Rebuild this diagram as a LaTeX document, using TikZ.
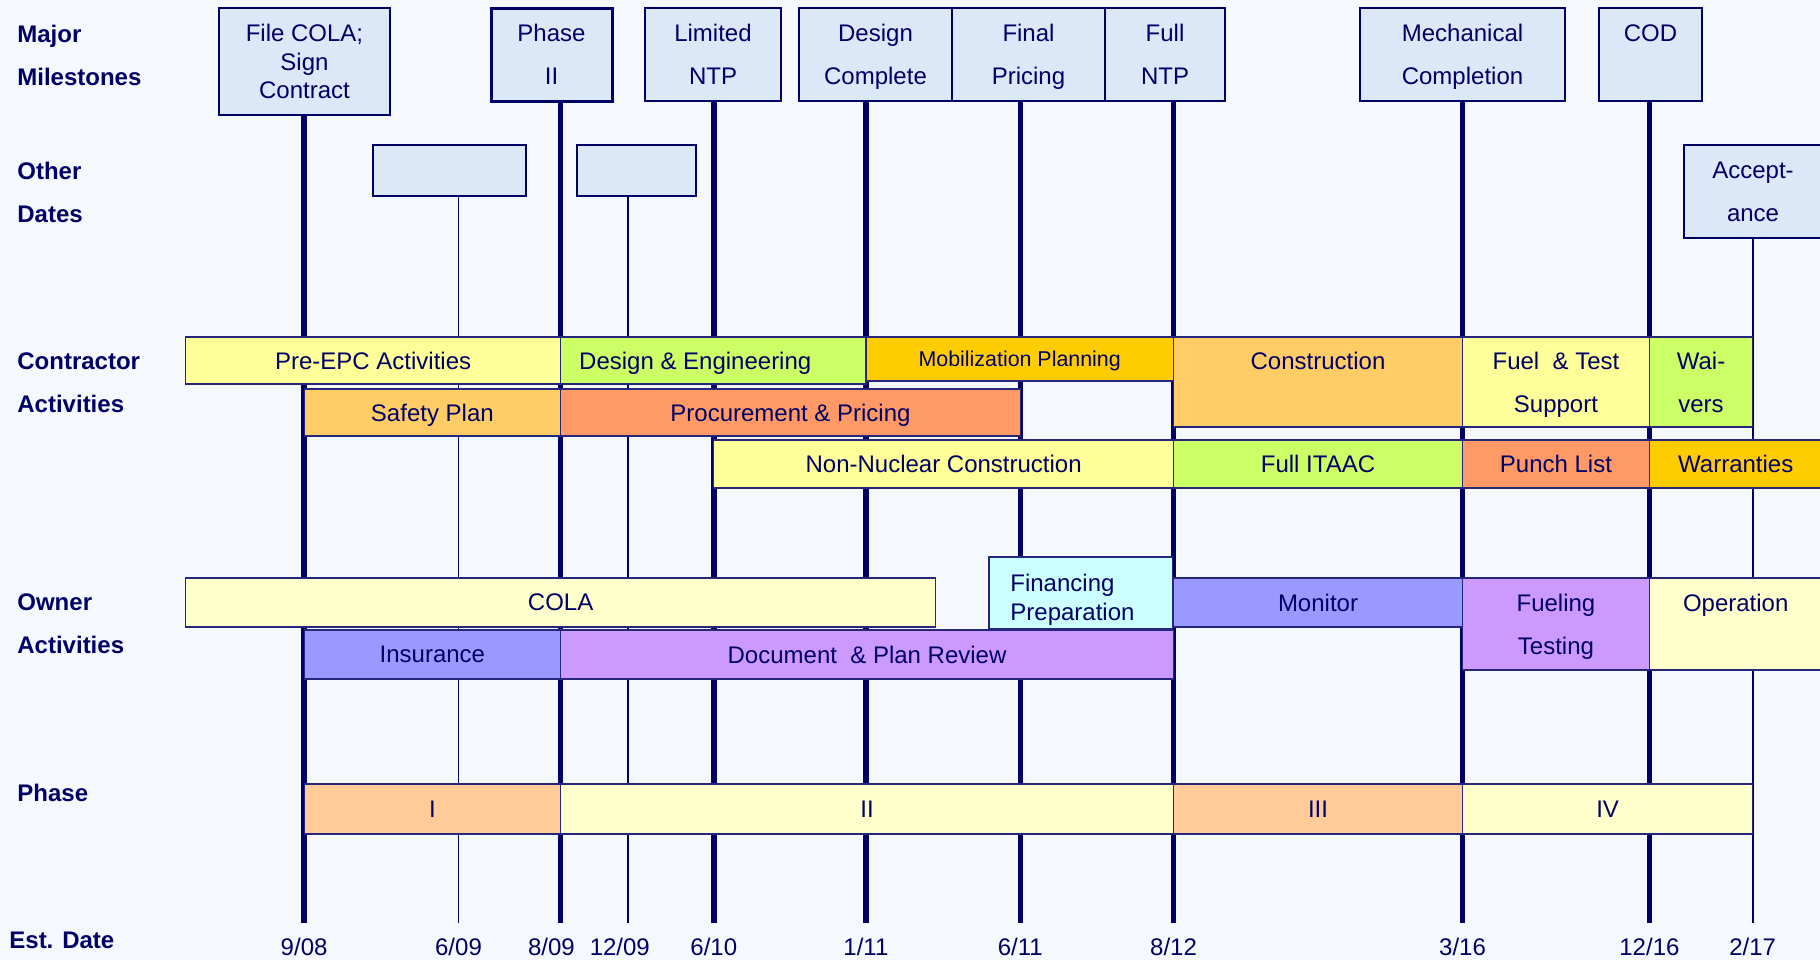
\documentclass[tikz,border=0pt]{standalone}
\usepackage{fontspec}
\setmainfont{Liberation Sans}

\definecolor{navy}{RGB}{0,0,102}
\definecolor{pagebg}{RGB}{245,248,253}
\definecolor{msfill}{RGB}{218,232,247}
\definecolor{cYellow}{RGB}{255,255,153}
\definecolor{cLime}{RGB}{204,255,102}
\definecolor{cGold}{RGB}{255,204,0}
\definecolor{cApricot}{RGB}{255,204,102}
\definecolor{cSalmon}{RGB}{255,153,102}
\definecolor{cCream}{RGB}{255,255,204}
\definecolor{cIce}{RGB}{204,255,255}
\definecolor{cPeri}{RGB}{153,153,255}
\definecolor{cLilac}{RGB}{204,153,255}
\definecolor{cPeach}{RGB}{255,204,153}

% box from (x1,y1) to (x2,y2): name, style, x1, y1, x2, y2, text
\newcommand\gbox[7]{%
  \node[#2, minimum width={(#5-#3)*0.5pt}, minimum height={(#6-#4)*0.5pt}]
    (#1) at ({(#3+#5)/2},{(#4+#6)/2}) {#7};}

\begin{document}
\begin{tikzpicture}[x=0.5pt,y=-0.5pt,
  txt/.style={text=navy, font=\fontsize{12}{21.5}\selectfont},
  mile/.style={draw=navy, line width=1pt, fill=msfill, inner sep=0pt, align=center,
    text depth=0pt, txt},
  bar/.style={draw=navy!85, line width=0.6pt, inner sep=0pt, align=center,
    text depth=0pt, txt},
  thickln/.style={draw=navy, line width=2.7pt},
  thinln/.style={draw=navy, line width=0.8pt},
  side/.style={anchor=west, align=left, inner sep=0pt, text=navy,
    font=\bfseries\fontsize{12}{21.5}\selectfont},
  datelbl/.style={inner sep=0pt, text=navy, font=\fontsize{12}{14}\selectfont}]

\useasboundingbox (0,0) rectangle (1820,960);
\fill[pagebg] (0,0) rectangle (1820,960);

% row headings
\node[side] (lMajor) at (17,55.5) {Major\\Milestones};
\node[side] (lOther) at (17,192) {Other\\Dates};
\node[side] (lContr) at (17,382.5) {Contractor\\Activities};
\node[side] (lOwner) at (17,624) {Owner\\Activities};
\node[side] (lPhase) at (17,793) {Phase};
\node[side] (lEst) at (9,940) {Est. Date};

% major milestones
\gbox{msA}{mile, font=\fontsize{12}{14.2}\selectfont}{219}{8}{390}{115}{File COLA;\\Sign\\Contract}
\gbox{msB}{mile, line width=1.5pt}{491}{8}{612}{101}{Phase\\II}
\gbox{msC}{mile}{645}{8}{781}{101}{Limited\\NTP}
\gbox{msD}{mile}{799}{8}{952}{101}{Design\\Complete}
\gbox{msE}{mile}{952}{8}{1105}{101}{Final\\Pricing}
\gbox{msF}{mile}{1105}{8}{1225}{101}{Full\\NTP}
\gbox{msG}{mile}{1360}{8}{1565}{101}{Mechanical\\Completion}
\gbox{msH}{mile}{1599}{8}{1702}{101}{COD\\\mbox{}}

% other dates
\gbox{odA}{mile}{372.6}{145}{525.8}{196}{}
\gbox{odB}{mile}{577}{145}{696}{196}{}
\gbox{odC}{mile}{1684}{145}{1822}{238}{Accept-\\ance}

% date lines
\foreach \m/\x/\n in {msA/304.1/a, msB/560.6/b, msC/713.8/c, msD/865.9/d,
    msE/1020.3/e, msF/1173.5/f, msG/1462.5/g, msH/1649.4/h} {
  \coordinate (end\n) at (\x,923);
  \draw[thickln] (\m.south -| end\n) -- (end\n);
}
\foreach \m/\x/\n in {odA/458.5/p, odB/628/q, odC/1752.7/r} {
  \coordinate (end\n) at (\x,923);
  \draw[thinln] (\m.south -| end\n) -- (end\n);
}

% contractor activities
\gbox{pre}{bar, fill=cYellow}{185.7}{337}{560.6}{384}{Pre-EPC Activities}
\gbox{des}{bar, fill=cLime}{560.6}{337}{865.9}{384}{Design \& Engineering\hspace*{18pt}}
\gbox{mob}{bar, fill=cGold, font=\fontsize{10.7}{13}\selectfont}{865.9}{337}{1173.5}{381}{Mobilization Planning}
\gbox{con}{bar, fill=cApricot}{1173.5}{337}{1462.5}{427}{Construction\\\mbox{}}
\gbox{fts}{bar, fill=cYellow}{1462.5}{337}{1649.4}{427}{Fuel\ \ \& Test\\Support}
\gbox{wai}{bar, fill=cLime}{1649.4}{337}{1752.7}{427}{Wai-\\vers}
\gbox{saf}{bar, fill=cApricot}{304.1}{389}{560.6}{436}{Safety Plan}
\gbox{pro}{bar, fill=cSalmon}{560.6}{389}{1020.3}{436}{Procurement \& Pricing}
\gbox{nnc}{bar, fill=cYellow}{713.8}{440}{1173.5}{488}{Non-Nuclear Construction}
\gbox{ita}{bar, fill=cLime}{1173.5}{440}{1462.5}{488}{Full ITAAC}
\gbox{pun}{bar, fill=cSalmon}{1462.5}{440}{1649.4}{488}{Punch List}
\gbox{war}{bar, fill=cGold}{1649.4}{440}{1822}{488}{Warranties}

% owner activities
\gbox{cola}{bar, fill=cCream}{185.7}{578}{935.5}{627}{COLA}
\gbox{fin}{bar, fill=cIce}{988.9}{557}{1172.3}{629}{}
\node[anchor=west, align=left, inner sep=0pt, text depth=0pt, text=navy,
  font=\fontsize{12}{14.5}\selectfont] (finTxt) at (1010,597) {Financing\\Preparation};
\gbox{mon}{bar, fill=cPeri}{1173.5}{578}{1462.5}{627}{Monitor}
\gbox{fue}{bar, fill=cLilac}{1462.5}{578}{1649.4}{670}{Fueling\\Testing}
\gbox{ope}{bar, fill=cCream}{1649.4}{578}{1822}{670}{Operation\\\mbox{}}
\gbox{ins}{bar, fill=cPeri}{304.1}{630}{560.6}{679}{Insurance}
\gbox{doc}{bar, fill=cLilac}{560.6}{630}{1173.5}{679}{Document\ \ \& Plan Review}

% phases
\gbox{phI}{bar, fill=cPeach}{304.1}{784}{560.6}{834}{I}
\gbox{phII}{bar, fill=cCream}{560.6}{784}{1173.5}{834}{II}
\gbox{phIII}{bar, fill=cPeach}{1173.5}{784}{1462.5}{834}{III}
\gbox{phIV}{bar, fill=cCream}{1462.5}{784}{1752.7}{834}{IV}

% estimated dates
\node[datelbl] (dA) at (304.1,947) {9/08};
\node[datelbl] (dP) at (458.5,947) {6/09};
\node[datelbl] (dB) at (551.4,947) {8/09};
\node[datelbl] (dQ) at (619.8,947) {12/09};
\node[datelbl] (dC) at (713.8,947) {6/10};
\node[datelbl] (dD) at (865.9,947) {1/11};
\node[datelbl] (dE) at (1020.3,947) {6/11};
\node[datelbl] (dF) at (1173.5,947) {8/12};
\node[datelbl] (dG) at (1462.5,947) {3/16};
\node[datelbl] (dH) at (1649.4,947) {12/16};
\node[datelbl] (dR) at (1752.7,947) {2/17};
\end{tikzpicture}
\end{document}
